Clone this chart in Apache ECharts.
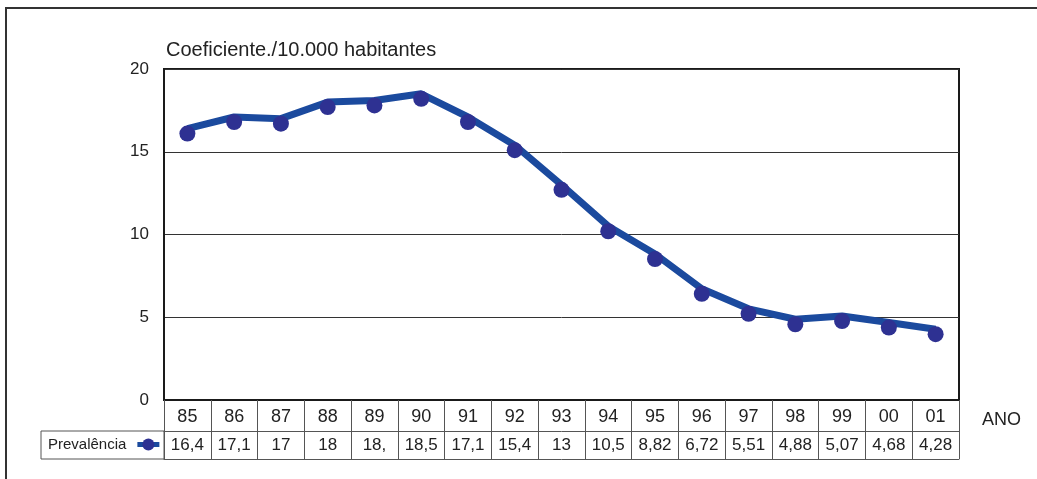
<!DOCTYPE html>
<html>
<head>
<meta charset="utf-8">
<script src="https://cdn.jsdelivr.net/npm/echarts@6/dist/echarts.min.js"></script>
<style>
  html, body { margin: 0; padding: 0; background: #fff; }
  #main { width: 1037px; height: 479px; }
</style>
</head>
<body>
<div id="main"></div>
<script>
// anos (eixo x)
var years = ['85', '86', '87', '88', '89', '90', '91', '92', '93', '94', '95', '96', '97', '98', '99', '00', '01'];
// prevalência / 10.000 habitantes
var prevalencia = [16.4, 17.1, 17, 18, 18.1, 18.5, 17.1, 15.4, 13, 10.5, 8.82, 6.72, 5.51, 4.88, 5.07, 4.68, 4.28];
// texto da tabela como aparece no gráfico
var tableLabels = ['16,4', '17,1', '17', '18', '18,', '18,5', '17,1', '15,4', '13', '10,5', '8,82', '6,72', '5,51', '4,88', '5,07', '4,68', '4,28'];

var chart = echarts.init(document.getElementById('main'));
var font = 'Liberation Sans, Arial, sans-serif';

var option = {
  textStyle: { fontFamily: font },
  animation: false,
  grid: {
    left: 164, right: 78, top: 69, bottom: 79,
    show: true, borderColor: '#1a1a1a', borderWidth: 2
  },
  legend: {
    left: 43, top: 432,
    align: 'right',
    itemWidth: 22, itemHeight: 15,
    lineStyle: { width: 5 },
    textStyle: { fontSize: 15, color: '#222', fontFamily: font, padding: [0, 6, 0, 0] },
    data: ['Prevalência']
  },
  xAxis: [
    { // linha dos anos
      type: 'category', data: years, position: 'bottom', boundaryGap: true,
      axisLine: { lineStyle: { color: '#1a1a1a', width: 2 } },
      axisTick: { show: true, inside: false, length: 59, interval: 0, lineStyle: { color: '#555', width: 1 } },
      axisLabel: { fontSize: 18, color: '#222', margin: 8, interval: 0 }
    },
    { // linha dos valores
      type: 'category', data: tableLabels, position: 'bottom', offset: 31, boundaryGap: true,
      axisLine: { lineStyle: { color: '#555', width: 1 } },
      axisTick: { show: false },
      axisLabel: { fontSize: 17, color: '#222', margin: 6, interval: 0 }
    },
    { // borda inferior da tabela
      type: 'category', data: years, position: 'bottom', offset: 59, boundaryGap: true,
      axisLine: { lineStyle: { color: '#555', width: 1 } },
      axisTick: { show: false },
      axisLabel: { show: false }
    }
  ],
  yAxis: {
    type: 'value', min: 0, max: 20, interval: 5,
    axisLine: { show: true, lineStyle: { color: '#1a1a1a', width: 2 } },
    axisTick: { show: false },
    axisLabel: { fontSize: 17, color: '#222', margin: 15 },
    splitLine: { lineStyle: { color: '#333', width: 1 } }
  },
  graphic: [
    { type: 'rect', shape: { x: 6, y: 8, width: 1200, height: 600 },
      style: { fill: 'none', stroke: '#333', lineWidth: 2 } },
    { type: 'rect', shape: { x: 41, y: 431, width: 123, height: 28 },
      style: { fill: 'none', stroke: '#555', lineWidth: 1 } },
    { type: 'text', left: 166, top: 40,
      style: { text: 'Coeficiente./10.000 habitantes', fontSize: 20, fill: '#222', fontFamily: font } },
    { type: 'text', left: 982, top: 411,
      style: { text: 'ANO', fontSize: 18, fill: '#222', fontFamily: font } }
  ],
  series: [{
    name: 'Prevalência',
    type: 'line',
    data: prevalencia,
    symbol: 'circle',
    symbolSize: 16,
    symbolOffset: [0, 5],
    itemStyle: { color: '#2e3192' },
    lineStyle: { color: '#1b4a9e', width: 7 },
    z: 3
  }]
};
chart.setOption(option);
</script>
</body>
</html>
